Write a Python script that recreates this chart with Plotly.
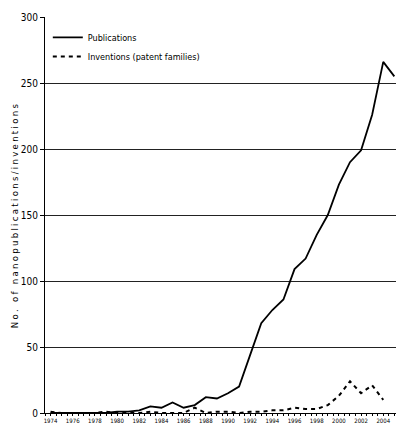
import plotly.graph_objects as go

years = list(range(1974, 2006))
publications = [0, 0, 0, 0, 0, 0, 1, 1, 2, 5, 4, 8, 4, 6, 12, 11, 15, 20, 44, 68,
                78, 86, 109, 117, 135, 150, 173, 190, 199, 226, 266, 255]
inv_years = list(range(1974, 2005))
inventions = [1, 0, 0, 0, 0, 1, 0, 0, 0, 1, 0, 0, 0, 4, 0, 1, 1, 0, 1, 1,
              2, 2, 4, 3, 3, 6, 13, 24, 15, 21, 10]
tick_years = list(range(1974, 2005, 2))

FONT = "Liberation Sans Narrow, DejaVu Sans Condensed, sans-serif"

fig = go.Figure()
fig.add_trace(go.Scatter(x=years, y=publications, mode="lines", name="Publications",
                         line=dict(color="black", width=1.8)))
fig.add_trace(go.Scatter(x=inv_years, y=inventions, mode="lines",
                         name="Inventions (patent families)",
                         line=dict(color="black", width=2, dash="4px,4px")))

fig.update_layout(
    width=396, height=427,
    margin=dict(l=45, r=0, t=17, b=14),
    paper_bgcolor="white", plot_bgcolor="white",
    font=dict(family=FONT, color="black", size=9),
    showlegend=True,
    legend=dict(x=0.008, y=0.985, xanchor="left", yanchor="top",
                bgcolor="rgba(0,0,0,0)", font=dict(size=9, family=FONT),
                itemwidth=30, tracegroupgap=0),
    xaxis=dict(range=[1973.5, 2005.15], tickmode="array", tickvals=tick_years,
               ticktext=[str(y) for y in tick_years],
               tickfont=dict(size=6, family=FONT),
               showgrid=False, zeroline=False, showline=True, linecolor="black",
               linewidth=1, ticks="outside", ticklen=2, tickcolor="black",
               minor=dict(tickmode="linear", tick0=1973.5, dtick=0.5, ticks="outside",
                          ticklen=2, tickcolor="black", showgrid=False)),
    yaxis=dict(range=[0, 300], tickmode="linear", tick0=0, dtick=50,
               tickfont=dict(size=10, family=FONT),
               showgrid=True, gridcolor="#222", gridwidth=1, zeroline=False,
               showline=True, linecolor="black", linewidth=1,
               ticks="outside", ticklen=4, tickcolor="black",
               title=dict(text="No. of nanopublications/inventions",
                          font=dict(size=9.5, family=FONT), standoff=0)),
)

post = """
document.body.style.margin = '0';
document.body.style.padding = '0';
var t = document.querySelector('.ytitle');
if (t) { t.style.letterSpacing = '2.3px'; }
"""
fig.write_html("out.html", post_script=post, config={"displayModeBar": False})
